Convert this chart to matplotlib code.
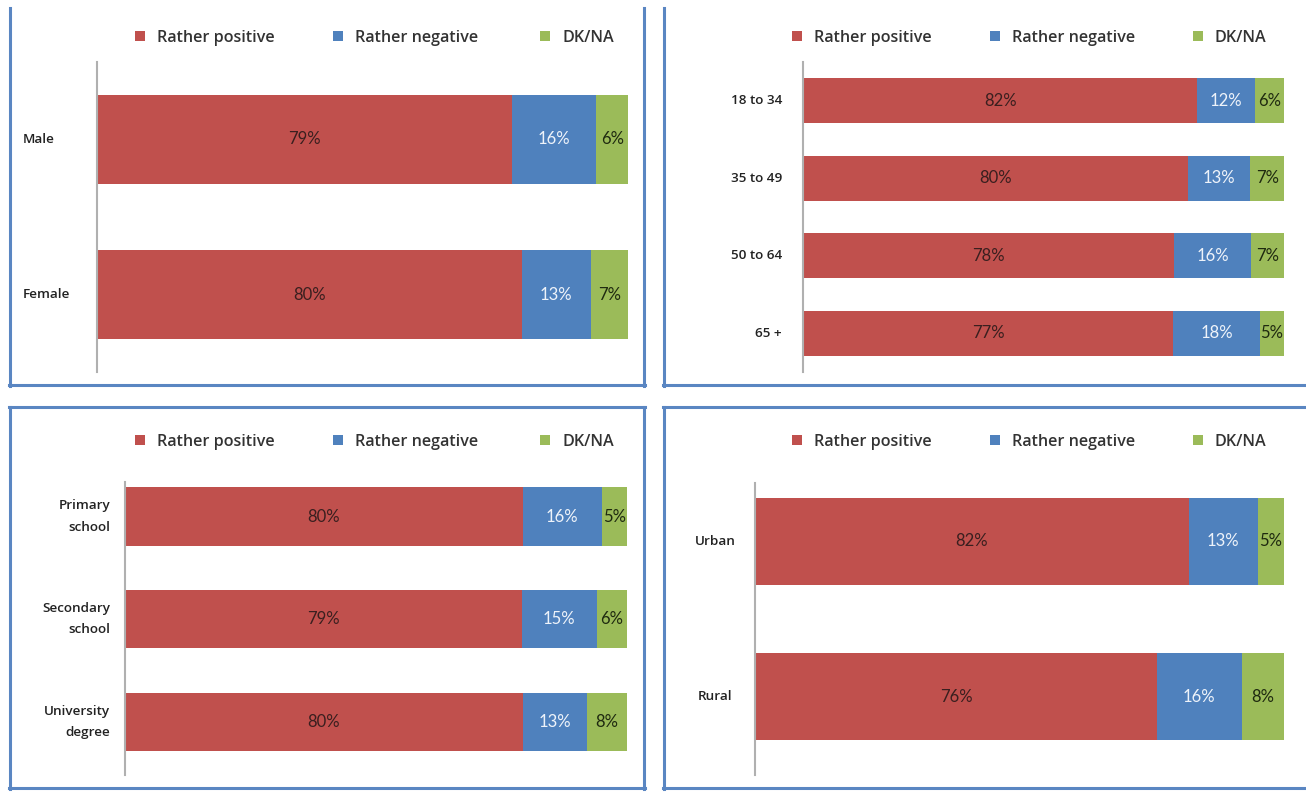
import matplotlib
matplotlib.use("Agg")
import matplotlib.pyplot as plt
from matplotlib.patches import Rectangle
from matplotlib.lines import Line2D

# legend / series
series = ['Rather positive', 'Rather negative', 'DK/NA']
colors = ['#C0504D', '#4F81BD', '#9BBB59']
label_colors = ['#3a1f1f', '#eef3fa', '#1f2a10']

# gender
gender_cats = ['Male', 'Female']
gender_pos = [79, 80]
gender_neg = [16, 13]
gender_dk = [6, 7]

# age
age_cats = ['18 to 34', '35 to 49', '50 to 64', '65 +']
age_pos = [82, 80, 78, 77]
age_neg = [12, 13, 16, 18]
age_dk = [6, 7, 7, 5]

# education
edu_cats = ['Primary\nschool', 'Secondary\nschool', 'University\ndegree']
edu_pos = [80, 79, 80]
edu_neg = [16, 15, 13]
edu_dk = [5, 6, 8]

# area
area_cats = ['Urban', 'Rural']
area_pos = [82, 76]
area_neg = [13, 16]
area_dk = [5, 8]

W, H = 1306, 794
fig = plt.figure(figsize=(W / 100, H / 100), dpi=100)
fig.patch.set_facecolor('white')

border = '#5a86c2'


def fx(x):
    return x / W


def fy(y):
    return 1 - y / H


def vline(x, y0, y1):
    fig.add_artist(Line2D([fx(x), fx(x)], [fy(y0), fy(y1)], color=border, lw=2.2))


def hline(y, x0, x1):
    fig.add_artist(Line2D([fx(x0), fx(x1)], [fy(y), fy(y)], color=border, lw=2.2))


# panel frames
vline(10, 8, 386); hline(385, 9, 645); vline(644, 8, 386)
vline(664, 8, 386); hline(385, 663, 1306)
vline(10, 407, 789); hline(407, 9, 645); hline(788, 9, 645); vline(644, 407, 789)
vline(664, 407, 789); hline(407, 663, 1306); hline(788, 663, 1306)


def legend(y, xs):
    # xs: x of each square centre, text starts 17px later
    for i, s in enumerate(series):
        fig.add_artist(Rectangle((fx(xs[i] - 5), fy(y + 4)), 10 / W, 10 / H,
                                 transform=fig.transFigure, color=colors[i], lw=0))
        fig.text(fx(xs[i] + 17), fy(y + 1), s, fontsize=11.6, family='Open Sans',
                 fontweight='semibold', color='#333333', va='center', ha='left')


def panel(box, ylim, cats, pos, neg, dk, height, lab_x, lab_ha):
    x0, x1, y0, y1 = box
    ax = fig.add_axes([fx(x0), fy(y1), (x1 - x0) / W, (y1 - y0) / H])
    n = len(cats)
    ypos = list(range(n))
    left = [0] * n
    tot = [pos[i] + neg[i] + dk[i] for i in range(n)]
    for k, vals in enumerate([pos, neg, dk]):
        w = [vals[i] / tot[i] * 100 for i in range(n)]
        ax.barh(ypos, w, left=left, height=height, color=colors[k], lw=0)
        for i in range(n):
            ax.text(left[i] + w[i] / 2, ypos[i], '%d%%' % vals[i], ha='center', va='center',
                    fontsize=12, family='Lato', color=label_colors[k])
        left = [left[i] + w[i] for i in range(n)]
    ax.set_xlim(0, 100)
    ax.set_ylim(*ylim)
    for s in ['top', 'right', 'bottom']:
        ax.spines[s].set_visible(False)
    ax.spines['left'].set_color('#b0b0b0')
    ax.spines['left'].set_linewidth(1.5)
    ax.set_xticks([])
    ax.set_yticks([])
    # category labels
    tr = matplotlib.transforms.blended_transform_factory(fig.transFigure, ax.transData)
    for i in range(n):
        ax.text(fx(lab_x), ypos[i], cats[i], transform=tr,
                ha=lab_ha, va='center', fontsize=9.7, family='Open Sans',
                fontweight='semibold', color='#222222', linespacing=1.85,
                multialignment='right')
    return ax


panel((97, 628, 62, 372), (1.5, -0.5), gender_cats, gender_pos, gender_neg, gender_dk, 0.57,
      23, 'left')
panel((803, 1284, 62, 372), (3.5, -0.5), age_cats, age_pos, age_neg, age_dk, 0.58,
      782, 'right')
panel((125, 627, 482, 775), (2.517, -0.336), edu_cats, edu_pos, edu_neg, edu_dk, 0.565,
      110, 'right')
panel((755, 1284, 483, 775), (1.506, -0.377), area_cats, area_pos, area_neg, area_dk, 0.56,
      715, 'center')

legend(37, [140, 338, 545])
legend(37, [797, 995, 1198])
legend(441, [140, 338, 545])
legend(441, [797, 995, 1198])

fig.savefig('out.png', dpi=100)
